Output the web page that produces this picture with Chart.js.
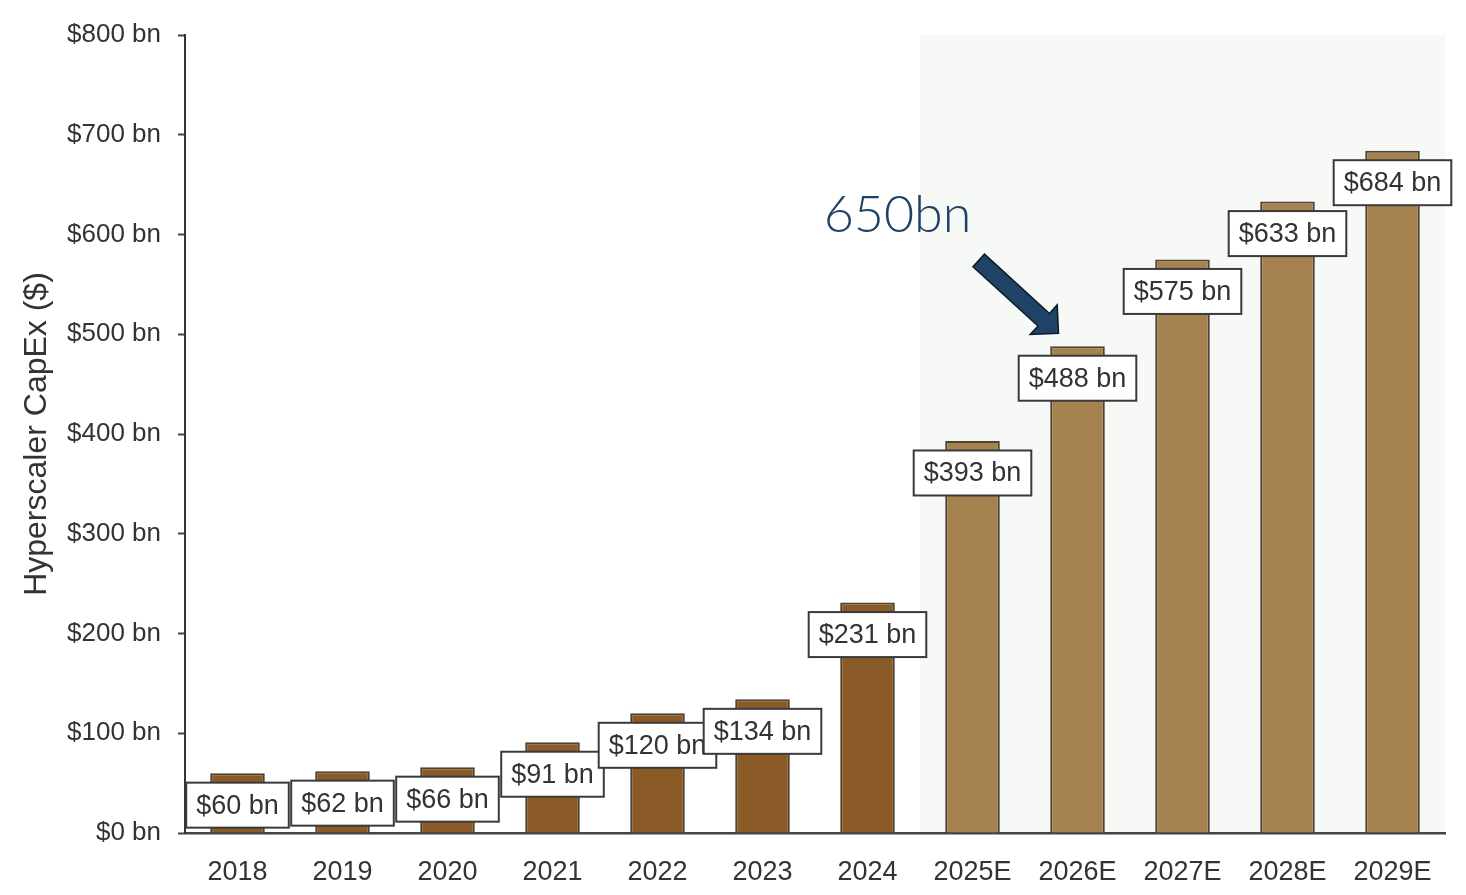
<!DOCTYPE html>
<html>
<head>
<meta charset="utf-8">
<script src="https://cdn.jsdelivr.net/npm/chart.js@4.4.1/dist/chart.umd.min.js"></script>
<style>
    html, body { margin: 0; padding: 0; background: #fff; }
    canvas { display: block; }
</style>
</head>
<body>
<canvas id="capexChart" width="1466" height="895"></canvas>
<script>
const years = ["2018", "2019", "2020", "2021", "2022", "2023", "2024", "2025E", "2026E", "2027E", "2028E", "2029E"];
const capex = [60, 62, 66, 91, 120, 134, 231, 393, 488, 575, 633, 684];
const isForecast = [false, false, false, false, false, false, false, true, true, true, true, true];
const yTicks = [0, 100, 200, 300, 400, 500, 600, 700, 800];
const calloutText = "650bn";
const calloutYear = "2026E";

const histColor = "#8a5a27";
const foreColor = "#a5824f";
const textColor = "#333333";
const font = "'Liberation Sans', Arial, sans-serif";

// light band behind the forecast years (drawn before axes so the x axis stays on top)
const forecastShade = {
    id: "forecastShade",
    beforeDraw(chart) {
        const { ctx, chartArea, scales: { x } } = chart;
        const first = isForecast.indexOf(true);
        const startX = (x.getPixelForValue(first - 1) + x.getPixelForValue(first)) / 2;
        ctx.save();
        ctx.fillStyle = "#f6f9f6";
        ctx.fillRect(startX, chartArea.top, chartArea.right - startX, chartArea.bottom - chartArea.top);
        ctx.restore();
    }
};

// boxed value labels near the bar tops
const boxLabels = {
    id: "boxLabels",
    afterDatasetsDraw(chart) {
        const { ctx } = chart;
        const meta = chart.getDatasetMeta(0);
        ctx.save();
        ctx.font = "27px " + font;
        ctx.textAlign = "center";
        ctx.textBaseline = "middle";
        meta.data.forEach((bar, i) => {
            const txt = "$" + capex[i] + " bn";
            const w = ctx.measureText(txt).width + 20;
            const h = 45;
            const cy = bar.y + 32;
            ctx.fillStyle = "#ffffff";
            ctx.fillRect(bar.x - w / 2, cy - h / 2, w, h);
            ctx.lineWidth = 2;
            ctx.strokeStyle = "#3a3a3a";
            ctx.strokeRect(bar.x - w / 2, cy - h / 2, w, h);
            ctx.fillStyle = textColor;
            ctx.fillText(txt, bar.x, cy + 1);
        });
        ctx.restore();
    }
};

// "650bn" callout with arrow pointing at the 2026E bar
const callout = {
    id: "callout",
    afterDraw(chart) {
        const { ctx } = chart;
        const idx = years.indexOf(calloutYear);
        const bar = chart.getDatasetMeta(0).data[idx];
        const tipX = bar.x - 19;
        const tipY = bar.y - 13;
        const len = 108, shaft = 8.5, headW = 20, headL = 20;
        const ang = Math.atan2(73, 80);

        ctx.save();
        ctx.translate(tipX, tipY);
        ctx.rotate(ang);
        ctx.beginPath();
        ctx.moveTo(0, 0);
        ctx.lineTo(-headL, -headW);
        ctx.lineTo(-headL, -shaft);
        ctx.lineTo(-len, -shaft);
        ctx.lineTo(-len, shaft);
        ctx.lineTo(-headL, shaft);
        ctx.lineTo(-headL, headW);
        ctx.closePath();
        ctx.fillStyle = "#1f4266";
        ctx.fill();
        ctx.lineWidth = 1.5;
        ctx.strokeStyle = "#0d1a28";
        ctx.stroke();
        ctx.restore();

        ctx.save();
        ctx.font = "300 52px Lato, 'Open Sans', sans-serif";
        ctx.fillStyle = "#1f4266";
        ctx.textAlign = "center";
        ctx.textBaseline = "middle";
        ctx.fillText(calloutText, tipX - 161, tipY - 118);
        ctx.restore();
    }
};

const ctx = document.getElementById("capexChart").getContext("2d");
new Chart(ctx, {
    type: "bar",
    data: {
        labels: years,
        datasets: [{
            data: capex,
            backgroundColor: isForecast.map(f => f ? foreColor : histColor),
            borderColor: "#4e4232",
            borderWidth: 2,
            borderSkipped: "bottom",
            categoryPercentage: 1.0,
            barPercentage: 0.52,
        }]
    },
    options: {
        responsive: false,
        animation: false,
        layout: { padding: { top: 35, right: 21, left: 0, bottom: 0 } },
        plugins: { legend: { display: false }, tooltip: { enabled: false } },
        scales: {
            x: {
                afterFit(scale) { scale.height = 62; },
                grid: { display: false, drawTicks: false },
                border: { display: true, color: "#444", width: 2.5 },
                ticks: {
                    color: textColor,
                    padding: 23,
                    maxRotation: 0,
                    font: { family: font, size: 27 }
                }
            },
            y: {
                min: 0,
                max: 800,
                afterFit(scale) { scale.width = 185; },
                afterBuildTicks(scale) { scale.ticks = yTicks.map(v => ({ value: v })); },
                grid: { drawOnChartArea: false, tickLength: 7, tickColor: "#444", tickWidth: 2 },
                border: { display: true, color: "#333", width: 2 },
                title: {
                    display: true,
                    text: "Hyperscaler CapEx ($)",
                    color: textColor,
                    padding: { top: 18, bottom: 0 },
                    font: { family: font, size: 32 }
                },
                ticks: {
                    color: textColor,
                    padding: 17,
                    font: { family: font, size: 26 },
                    callback: v => "$" + v + " bn"
                }
            }
        }
    },
    plugins: [forecastShade, boxLabels, callout]
});
</script>
</body>
</html>
